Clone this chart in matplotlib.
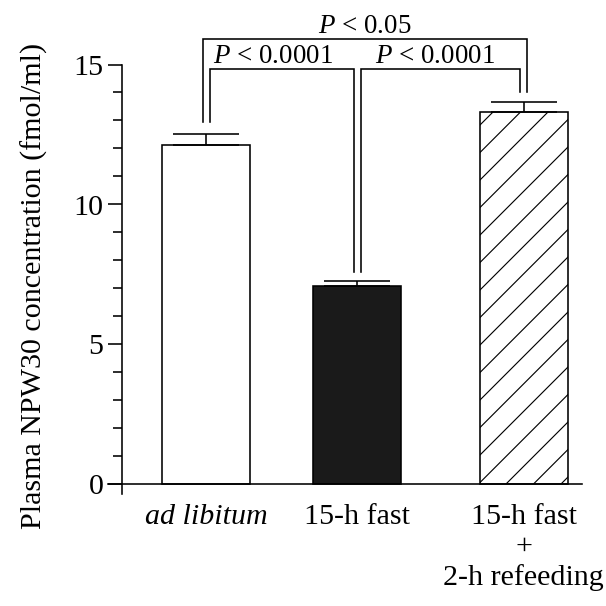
import numpy as np
import matplotlib
matplotlib.use("Agg")
import matplotlib.pyplot as plt

plt.rcParams['font.family'] = ['Liberation Serif', 'DejaVu Serif']
plt.rcParams['mathtext.fontset'] = 'custom'
plt.rcParams['mathtext.rm'] = 'Liberation Serif'
plt.rcParams['mathtext.it'] = 'Liberation Serif:italic'
plt.rcParams['hatch.linewidth'] = 0.5

# ---- data ----
categories = ["ad libitum", "15-h fast", "15-h fast\n+\n2-h refeeding"]
values = [12.12, 7.09, 13.30]
sems = [0.40, 0.17, 0.36]
yticks_major = [0, 5, 10, 15]
yticks_minor = list(range(0, 16))
ylabel = "Plasma NPW30 concentration (fmol/ml)"

# significance brackets: (bar i, bar j, top, label)
comparisons = [(0, 1, 14.84, "$P$ < 0.0001"),
               (1, 2, 14.84, "$P$ < 0.0001"),
               (0, 2, 15.92, "$P$ < 0.05")]
leg_bottoms = [12.95, 7.58, 14.00]

# ---- layout ----
DPI = 165
W = 606.3
positions = [0, 1, 2.1]
bar_width = 0.583
leg_off = 0.026

fig = plt.figure(figsize=(W / DPI, W / DPI), dpi=DPI)
ax = fig.add_axes([108 / W, 0.18477, 474 / W, 0.7913])

colors = ['white', '#1a1a1a', 'white']
hatches = [None, None, '//']
bars = ax.bar(positions, values, width=bar_width, color=colors,
              edgecolor='black', linewidth=0.7, zorder=2)
for b, h in zip(bars, hatches):
    if h:
        b.set_hatch(h)

ax.errorbar(positions, values, yerr=[np.zeros(len(values)), sems], fmt='none',
            ecolor='black', elinewidth=0.7, capsize=14.6, capthick=0.7, zorder=3)

# brackets
text_x = [0.44, 1.513, 1.05]
for k, (i, j, top, lab) in enumerate(comparisons):
    outer = (j - i) > 1
    if outer:
        xi = positions[i] - leg_off
        xj = positions[j] + leg_off
    else:
        xi = positions[i] + leg_off
        xj = positions[j] - leg_off
    ax.plot([xi, xi, xj, xj], [leg_bottoms[i], top, top, leg_bottoms[j]],
            color='black', lw=0.7, clip_on=False, zorder=4,
            solid_joinstyle='miter')
    ax.text(text_x[k], top + 0.22, lab, ha='center', va='baseline',
            fontsize=11.8)

ax.set_xlim(-0.652, 2.487)
ax.set_ylim(-0.37, 16.8)

for s in ['top', 'right']:
    ax.spines[s].set_visible(False)
ax.spines['bottom'].set_position(('data', 0))
ax.spines['left'].set_position(('data', -0.556))
ax.spines['left'].set_bounds(-0.37, 15)
for s in ['bottom', 'left']:
    ax.spines[s].set_linewidth(0.7)

ax.set_yticks(yticks_major)
ax.set_yticks(yticks_minor, minor=True)
ax.tick_params(axis='y', which='major', length=6.1, width=0.7, direction='out',
               pad=2.2, labelsize=13.1)
ax.tick_params(axis='y', which='minor', length=3.9, width=0.7, direction='out')

ax.set_xticks(positions)
ax.set_xticklabels(categories)
ax.get_xticklabels()[0].set_style('italic')
ax.tick_params(axis='x', length=0, pad=8.7, labelsize=13.1)

fig.text(34 / W, 1 - 286 / W, ylabel, rotation=90, ha='center', va='center',
         fontsize=13.1)

fig.savefig("out.png", dpi=DPI)
